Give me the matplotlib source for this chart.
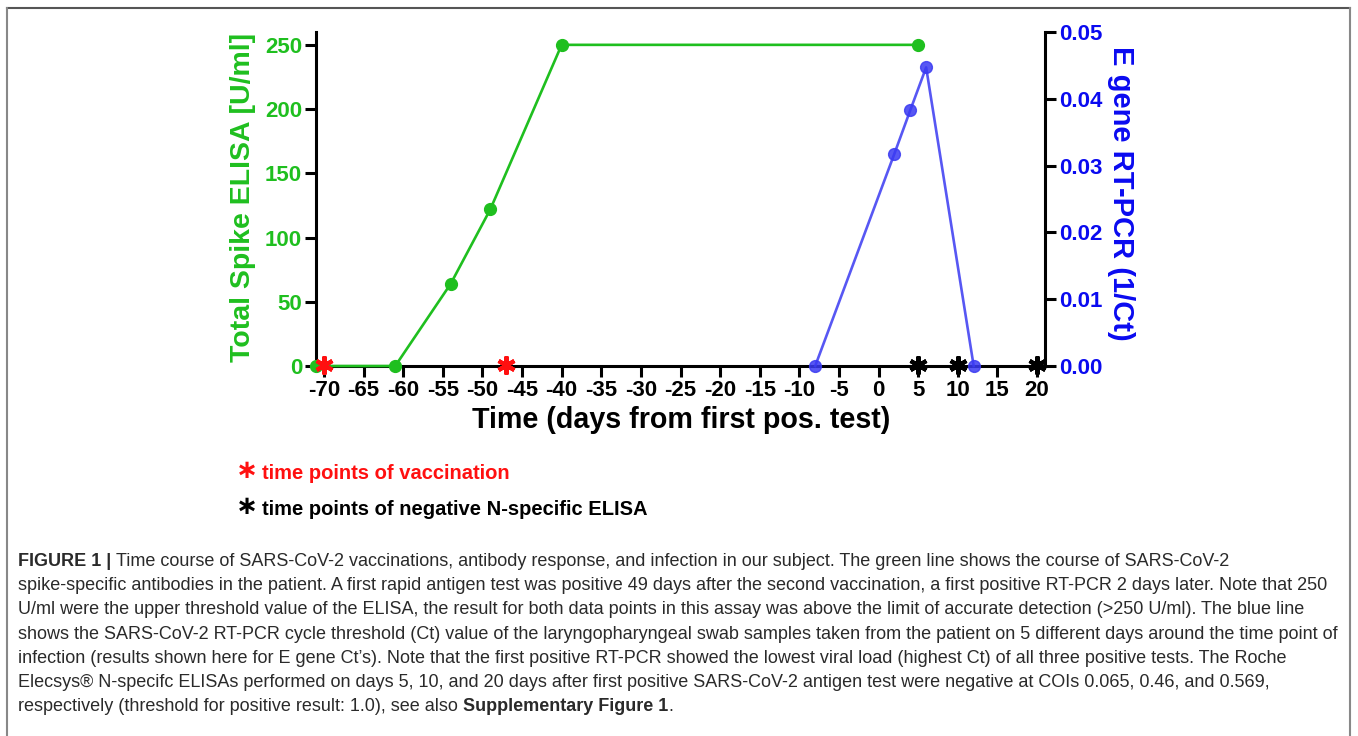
import matplotlib
matplotlib.use("Agg")
import matplotlib.pyplot as plt
from matplotlib.lines import Line2D

# ---- data ----
elisa_days = [-71, -61, -54, -49, -40, 5]
elisa_vals = [0, 0, 64, 122, 250, 250]
pcr_days = [-8, 2, 4, 6, 12]
pcr_vals = [0.0, 0.0318, 0.0383, 0.0447, 0.0]
vacc_days = [-70, -47]
neg_n_days = [5, 10, 20]
x_ticks = list(range(-70, 21, 5))
left_ticks = [0, 50, 100, 150, 200, 250]
right_ticks = [0.00, 0.01, 0.02, 0.03, 0.04, 0.05]

GREEN = '#1fbf1f'
BLUE_LINE = '#3a3af2'
BLUE_TXT = '#0a0af0'

W, H = 1358, 736
fig = plt.figure(figsize=(W / 100, H / 100), dpi=100)

def fx(px):
    return px / W

def fy(py):
    return 1 - py / H

CAP_FONT = 'Liberation Sans'
CAP_SIZE = 13.0
BOLD = 'Liberation Sans'

AX_L, AX_R, AX_T, AX_B = 316, 1045, 32, 366
ax = fig.add_axes([fx(AX_L), fy(AX_B), fx(AX_R) - fx(AX_L), fy(AX_T) - fy(AX_B)])
ax2 = ax.twinx()

ax.set_xlim(-71, 21)
ax.set_ylim(0, 260)
ax2.set_ylim(0, 0.05)

ax.plot(elisa_days, elisa_vals, color=GREEN, lw=1.9, marker='o', ms=8.5,
        clip_on=False, zorder=5)
ax2.plot(pcr_days, pcr_vals, color=BLUE_LINE, lw=1.9, marker='o', ms=8.5,
         alpha=0.85, clip_on=False, zorder=5)

ax.plot(vacc_days, [1] * len(vacc_days), ls='none', marker=(6, 2, 0), ms=13,
        mew=3.0, color='#ff1010', clip_on=False, zorder=6)
ax.plot(neg_n_days, [1] * len(neg_n_days), ls='none', marker=(6, 2, 0), ms=13,
        mew=3.0, color='black', clip_on=False, zorder=6)

for a in (ax, ax2):
    a.spines['top'].set_visible(False)
    for s in a.spines.values():
        s.set_linewidth(2.2)
ax.spines['right'].set_visible(False)
ax2.spines['left'].set_visible(False)
ax2.spines['bottom'].set_visible(False)

ax.set_xticks(x_ticks)
ax.set_xticklabels([str(v) for v in x_ticks])
ax.set_yticks(left_ticks)
ax2.set_yticks(right_ticks)
ax2.set_yticklabels([f'{v:.2f}' for v in right_ticks])

ax.tick_params(axis='x', direction='out', length=8, width=2.2, labelsize=16,
               pad=2, colors='black')
ax.tick_params(axis='y', direction='out', length=8, width=2.2, labelsize=16,
               pad=2, labelcolor=GREEN, color='black')
ax2.tick_params(axis='y', direction='out', length=8, width=2.2, labelsize=16,
                pad=2, labelcolor=BLUE_TXT, color='black')
for lab in ax.get_xticklabels() + ax.get_yticklabels() + ax2.get_yticklabels():
    lab.set_fontweight('bold')
    lab.set_family(BOLD)

def to_ax(px, py):
    return (px - AX_L) / (AX_R - AX_L), (AX_B - py) / (AX_B - AX_T)

ax.set_ylabel('Total Spike ELISA [U/ml]', color=GREEN, fontsize=20.5,
              fontweight='bold', family=BOLD, va='center', ha='center',
              rotation=90, rotation_mode='anchor')
ax.yaxis.set_label_coords(*to_ax(243, 197))
ax2.set_ylabel('E gene RT-PCR (1/Ct)', color=BLUE_TXT, fontsize=21,
               fontweight='bold', family=BOLD, rotation=270, va='center',
               ha='center', rotation_mode='anchor')
ax2.yaxis.set_label_coords(*to_ax(1121, 193))
ax.set_xlabel('Time (days from first pos. test)', color='black', fontsize=20.6,
              fontweight='bold', family=BOLD, va='center', ha='center')
ax.xaxis.set_label_coords(*to_ax(681, 420))

# legend-like notes
fig.text(fx(247), fy(471), '\u2217', color='#ff1010', fontsize=19, fontweight='bold',
         family='DejaVu Sans', va='center', ha='center')
fig.text(fx(262), fy(479), 'time points of vaccination', color='#ff1010',
         fontsize=14.5, fontweight='bold', family=BOLD, va='baseline')
fig.text(fx(247), fy(507), '\u2217', color='black', fontsize=19, fontweight='bold',
         family='DejaVu Sans', va='center', ha='center')
fig.text(fx(262), fy(515), 'time points of negative N-specific ELISA',
         color='black', fontsize=14.5, fontweight='bold', family=BOLD,
         va='baseline')

# frame
fig.add_artist(Line2D([fx(7), fx(1350)], [fy(8), fy(8)], color='#555555', lw=1.5))
fig.add_artist(Line2D([fx(7), fx(7)], [fy(8), 0], color='#888888', lw=1.5))
fig.add_artist(Line2D([fx(1350), fx(1350)], [fy(8), 0], color='#888888', lw=1.5))

# caption
cap_lines = [
    ('FIGURE 1 | ', 'Time course of SARS-CoV-2 vaccinations, antibody response, and infection in our subject. The green line shows the course of SARS-CoV-2'),
    ('', 'spike-specific antibodies in the patient. A first rapid antigen test was positive 49 days after the second vaccination, a first positive RT-PCR 2 days later. Note that 250'),
    ('', 'U/ml were the upper threshold value of the ELISA, the result for both data points in this assay was above the limit of accurate detection (>250 U/ml). The blue line'),
    ('', 'shows the SARS-CoV-2 RT-PCR cycle threshold (Ct) value of the laryngopharyngeal swab samples taken from the patient on 5 different days around the time point of'),
    ('', "infection (results shown here for E gene Ct\u2019s). Note that the first positive RT-PCR showed the lowest viral load (highest Ct) of all three positive tests. The Roche"),
    ('', 'Elecsys\u00ae N-specifc ELISAs performed on days 5, 10, and 20 days after first positive SARS-CoV-2 antigen test were negative at COIs 0.065, 0.46, and 0.569,'),
]
base0 = 566
step = 24.2
renderer = fig.canvas.get_renderer()
CAP_COL = '#2a2a2a'
for i, (bold, rest) in enumerate(cap_lines):
    y = fy(base0 + i * step)
    x = fx(18)
    if bold:
        t = fig.text(x, y, bold, fontsize=CAP_SIZE, fontweight='bold',
                     family=CAP_FONT, va='baseline', color=CAP_COL)
        bb = t.get_window_extent(renderer)
        x = bb.x1 / W
    fig.text(x, y, rest, fontsize=CAP_SIZE, family=CAP_FONT, va='baseline',
             color=CAP_COL)

y = fy(base0 + 6 * step)
t = fig.text(fx(18), y, 'respectively (threshold for positive result: 1.0), see also ',
             fontsize=CAP_SIZE, family=CAP_FONT, va='baseline', color=CAP_COL)
bb = t.get_window_extent(renderer)
t2 = fig.text(bb.x1 / W, y, 'Supplementary Figure 1', fontsize=CAP_SIZE,
              fontweight='bold', family=CAP_FONT, va='baseline', color=CAP_COL)
bb2 = t2.get_window_extent(renderer)
fig.text(bb2.x1 / W, y, '.', fontsize=CAP_SIZE, family=CAP_FONT, va='baseline',
         color=CAP_COL)

fig.savefig('out.png', dpi=100)
